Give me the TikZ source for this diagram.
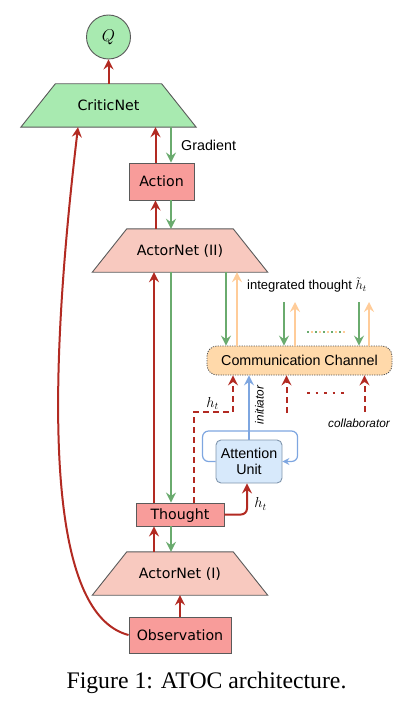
\RequirePackage{fix-cm}
\documentclass[tikz,border=0pt]{standalone}
\usepackage{fontspec}
\setmainfont{Liberation Serif}
\newfontfamily\dvfont{DejaVu Sans}
\newfontfamily\lsfont{Liberation Sans}
\usetikzlibrary{arrows.meta,backgrounds,calc}
\definecolor{qgreen}{HTML}{A8EAB0}
\definecolor{redbox}{HTML}{F89C9A}
\definecolor{pinkbox}{HTML}{F8C9BF}
\definecolor{redline}{HTML}{B22A22}
\definecolor{greenline}{HTML}{6AAB6E}
\definecolor{orangeline}{HTML}{FFCC99}
\definecolor{commfill}{HTML}{FFD9AA}
\definecolor{attfill}{HTML}{D7E9FB}
\definecolor{attdraw}{HTML}{8096AD}
\definecolor{blueline}{HTML}{7EA6E0}
\definecolor{edgegray}{HTML}{5A5A5A}
\definecolor{commdraw}{HTML}{555555}
\begin{document}
\begin{tikzpicture}[x=1pt,y=-1pt,
  dv/.style={font=\dvfont\fontsize{14.2}{17}\selectfont},
  ls/.style={font=\lsfont\fontsize{14.3}{16.7}\selectfont},
  lsit/.style={font=\lsfont\itshape\fontsize{11.8}{14}\selectfont},
  boxnode/.style={dv, draw=edgegray, line width=0.9pt, fill=redbox, inner sep=0pt, text height=10.4pt, text depth=0pt},
  trapnode/.style={dv, inner sep=0pt, text height=10.4pt, text depth=0pt, minimum height=43pt, minimum width=175pt},
  trapfill/.style={draw=edgegray, line width=0.9pt},
  arrowhd/.style={-{Stealth[length=10pt,width=10pt,inset=3.5pt]}},
  smallhd/.style={-{Stealth[length=7pt,width=7pt,inset=2.5pt]}},
  redarr/.style={draw=redline, line width=2pt, arrowhd},
  greenarr/.style={draw=greenline, line width=1.8pt, arrowhd},
  orangearr/.style={draw=orangeline, line width=1.8pt, arrowhd},
  redash/.style={draw=redline, line width=2pt, dash pattern=on 6pt off 4pt, arrowhd},
  bluearr/.style={draw=blueline, line width=1.5pt, arrowhd},
  blueloop/.style={draw=blueline, line width=1.2pt, smallhd, rounded corners=6pt},
  mathlbl/.style={font=\fontsize{14.5}{16}\selectfont, inner sep=0pt}
]
\useasboundingbox (0,0) rectangle (417,714);
% column coordinates
\coordinate (rA) at (155.5,0);
\coordinate (rB) at (154,0);
\coordinate (gC) at (171,0);
\coordinate (c1) at (226,0);
\coordinate (c2) at (237,0);
\coordinate (g2) at (284,302);
\coordinate (o2) at (295,302);
\coordinate (g3) at (359,302);
\coordinate (o3) at (369,302);
\coordinate (d1) at (286.5,413);
\coordinate (d2) at (364.5,412);
\coordinate (hbend) at (233,412);
\coordinate (rd1) at (307,393);
\coordinate (rd2) at (345,393);
\coordinate (od1) at (307,332);
\coordinate (od2) at (346,332);

% nodes
\node[circle, draw=edgegray, fill=qgreen, line width=0.9pt, minimum size=44pt, inner sep=0pt, font=\fontsize{17}{20}\selectfont] (q) at (108.5,37) {$Q$};
\node[trapnode] (critic) at (108.5,105.5) {CriticNet};
\node[boxnode, minimum width=65pt, minimum height=37pt] (action) at (161.5,181.5) {Action};
\node[trapnode] (actor2) at (180,250.5) {ActorNet (II)};
\node[boxnode, minimum width=88pt, minimum height=23pt] (thought) at (180,514.5) {Thought};
\node[trapnode] (actor1) at (180,573.5) {ActorNet (I)};
\node[boxnode, minimum width=102pt, minimum height=36pt] (obs) at (180,635) {Observation};
\node[ls, fill=commfill, draw=commdraw, line width=0.8pt, dash pattern=on 1.2pt off 1.2pt, rounded corners=10pt, minimum width=185pt, minimum height=29pt, inner sep=0pt, text height=10.3pt, text depth=0pt] (comm) at (299.5,360.5) {Communication Channel};
\node[ls, align=center, fill=attfill, draw=attdraw, line width=0.9pt, rounded corners=5pt, minimum width=66pt, minimum height=43pt, inner sep=0pt] (att) at (249,461.5) {Attention\\Unit};

\begin{scope}[on background layer]
\filldraw[trapfill, fill=qgreen] (critic.south west) -- (critic.south east) -- ([xshift=-34.5pt]critic.north east) -- ([xshift=34.5pt]critic.north west) -- cycle;
\filldraw[trapfill, fill=pinkbox] (actor2.south west) -- (actor2.south east) -- ([xshift=-34.5pt]actor2.north east) -- ([xshift=34.5pt]actor2.north west) -- cycle;
\filldraw[trapfill, fill=pinkbox] (actor1.south west) -- (actor1.south east) -- ([xshift=-34.5pt]actor1.north east) -- ([xshift=34.5pt]actor1.north west) -- cycle;
\end{scope}

% labels
\node[ls, anchor=west, inner sep=0pt] (grad) at (181,145) {Gradient};
\node[font=\lsfont\fontsize{13}{15}\selectfont, inner sep=0pt] (itl) at (307,285) {integrated thought $\tilde{h}_t$};
\node[lsit, inner sep=0pt] (collab) at (359,423) {collaborator};
\node[lsit, rotate=90, inner sep=0pt] (initl) at (259.5,405) {initiator};
\node[mathlbl] (ht1) at (212.5,403.5) {$h_t$};
\node[mathlbl] (ht2) at (260.5,504) {$h_t$};
\node[font=\fontsize{23.75}{28}\selectfont, anchor=base, inner sep=0pt] (cap) at (206.5,688) {Figure 1: ATOC architecture.};

% main column connectors
\draw[redarr] (critic.north) -- (q.south);
\draw[redarr] (action.north -| rA) -- (critic.south -| rA);
\draw[greenarr] (critic.south -| gC) -- (action.north -| gC);
\draw[redarr] (actor2.north -| rA) -- (action.south -| rA);
\draw[greenarr] (action.south -| gC) -- (actor2.north -| gC);
\draw[redarr] (thought.north -| rB) -- (actor2.south -| rB);
\draw[greenarr] (actor2.south -| gC) -- (thought.north -| gC);
\draw[redarr] (actor1.north -| rB) -- (thought.south -| rB);
\draw[greenarr] (thought.south -| gC) -- (actor1.north -| gC);
\draw[redarr] (obs.north) -- (actor1.south);
\draw[redarr] (obs.west) .. controls (59,617) and (39,456) .. ([xshift=-30.5pt]critic.south);

% communication
\draw[greenarr] (actor2.south -| c1) -- (comm.north -| c1);
\draw[orangearr] (comm.north -| c2) -- (actor2.south -| c2);
\draw[greenarr] (g2) -- (comm.north -| g2);
\draw[orangearr] (comm.north -| o2) -- (o2);
\draw[greenarr] (g3) -- (comm.north -| g3);
\draw[orangearr] (comm.north -| o3) -- (o3);
\draw[draw=greenline, line width=1.8pt, dash pattern=on 2pt off 6pt] (od1) -- (od2);
\draw[draw=orangeline, line width=1.8pt, dash pattern=on 2pt off 6pt, dash phase=4pt] (od1) -- (od2);

\draw[redash] ([xshift=14pt]thought.north) |- (hbend) -- (comm.south -| hbend);
\draw[redash] (d1) -- (comm.south -| d1);
\draw[redash] (d2) -- (comm.south -| d2);
\draw[draw=redline, line width=2.2pt, dash pattern=on 2.5pt off 6pt] (rd1) -- (rd2);

\draw[bluearr] (att.north) -- (comm.south -| att.north);
\draw[blueloop] (att.west) -- ++(-13,0) -- ++(0,-30.5) -- ++(95,0) -- ++(0,30.5) -- (att.east);
\draw[redarr, rounded corners=6pt] (thought.east) -| ([xshift=-2pt]att.south);
\end{tikzpicture}
\end{document}
